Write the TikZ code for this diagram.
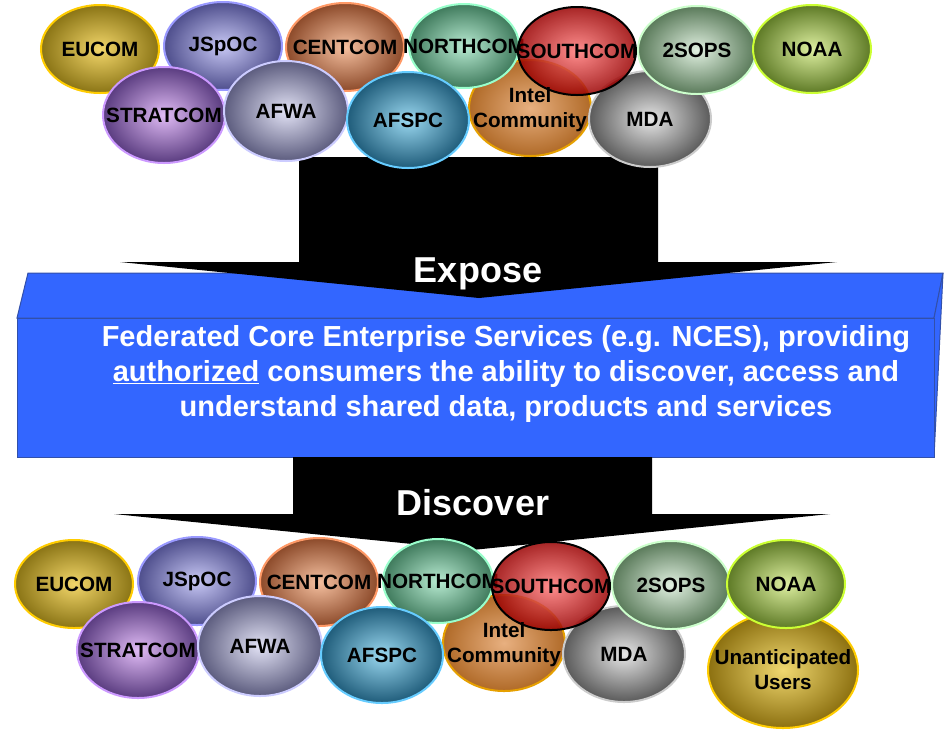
\documentclass[tikz,border=0pt]{standalone}
\usepackage{fontspec}
\setmainfont{Liberation Sans}
\usetikzlibrary{shapes.geometric,positioning}

\definecolor{boxblue}{HTML}{3366FF}
\definecolor{boxline}{HTML}{3250AA}
\definecolor{eucomin}{HTML}{F2D66A}   \definecolor{eucomout}{HTML}{8A7415}   \definecolor{eucomedge}{HTML}{FFCC00}
\definecolor{jspocin}{HTML}{C8C8F5}   \definecolor{jspocout}{HTML}{4E4E8C}   \definecolor{jspocedge}{HTML}{9999FF}
\definecolor{centin}{HTML}{F5C0A0}    \definecolor{centout}{HTML}{8C4A2A}    \definecolor{centedge}{HTML}{FF9966}
\definecolor{northin}{HTML}{B8EBD2}   \definecolor{northout}{HTML}{3F7A5C}   \definecolor{northedge}{HTML}{99FFCC}
\definecolor{southin}{HTML}{FF7A7A}   \definecolor{southout}{HTML}{990000}   \definecolor{southedge}{HTML}{000000}
\definecolor{sopsin}{HTML}{E0F0E0}    \definecolor{sopsout}{HTML}{5A7A5A}    \definecolor{sopsedge}{HTML}{CCFFCC}
\definecolor{noaain}{HTML}{DDEFA0}    \definecolor{noaaout}{HTML}{5E7A26}    \definecolor{noaaedge}{HTML}{CCFF33}
\definecolor{stratin}{HTML}{E0BBF5}   \definecolor{stratout}{HTML}{5A3C80}   \definecolor{stratedge}{HTML}{CC99FF}
\definecolor{afwain}{HTML}{E2E2F5}    \definecolor{afwaout}{HTML}{5C5C7E}    \definecolor{afwaedge}{HTML}{CCCCFF}
\definecolor{afspcin}{HTML}{9AD8F0}   \definecolor{afspcout}{HTML}{1F5C7A}   \definecolor{afspcedge}{HTML}{66CCFF}
\definecolor{intelin}{HTML}{E8B080}   \definecolor{intelout}{HTML}{B06A28}   \definecolor{inteledge}{HTML}{E6A000}
\definecolor{mdain}{HTML}{E6E6E6}     \definecolor{mdaout}{HTML}{5A5A5A}     \definecolor{mdaedge}{HTML}{CCCCCC}
\definecolor{usersin}{HTML}{F0D870}   \definecolor{usersout}{HTML}{8C7010}   \definecolor{usersedge}{HTML}{FFCC00}

\tikzset{
    org/.style n args={3}{
        ellipse,
        draw=#3,
        line width=1.5pt,
        shading=radial,
        inner color=#1,
        outer color=#2,
        minimum width=88.5pt,
        minimum height=66pt,
        inner sep=0pt,
    },
    wide/.style={
        minimum width=91.5pt,
        minimum height=72pt,
    },
    orgtext/.style={
        font=\fontsize{15.5}{18.75}\selectfont\bfseries,
        align=center,
        inner sep=0pt,
    },
    face/.style={
        fill=boxblue,
        draw=boxline,
        line width=0.75pt,
    },
    bigtext/.style={
        text=white,
        font=\fontsize{27}{32}\selectfont\bfseries,
    },
    boxtext/.style={
        text=white,
        align=center,
        font=\fontsize{21.75}{26.25}\selectfont\bfseries,
    },
}

% one cluster of organisations, #1 = prefix of the node names
\newcommand{\orgs}[1]{%
    \node[org={intelin}{intelout}{inteledge}, wide] (#1intel) at (530,108) {};
    \node[org={mdain}{mdaout}{mdaedge}, wide, label={[orgtext]center:MDA}] (#1mda) at (650,119) {};
    \node[org={eucomin}{eucomout}{eucomedge}, label={[orgtext]center:EUCOM}] (#1eucom) at (100,49) {};
    \node[org={jspocin}{jspocout}{jspocedge}, label={[orgtext]center:JSpOC}] (#1jspoc) at (223,46) {};
    \node[org={centin}{centout}{centedge}, label={[orgtext]center:CENTCOM}] (#1centcom) at (345,47) {};
    \node[org={northin}{northout}{northedge}, minimum width=82.5pt, minimum height=63pt, label={[orgtext]center:NORTHCOM}] (#1northcom) at (464,46) {};
    \node[org={southin}{southout}{southedge}, fill opacity=0.85, label={[orgtext]center:SOUTHCOM}] (#1southcom) at (577,51) {};
    \node[orgtext] (#1inteltext) at ([yshift=-1.5pt]#1intel) {Intel\\Community};
    \node[org={sopsin}{sopsout}{sopsedge}, label={[orgtext]center:2SOPS}] (#1sops) at (697,50) {};
    \node[org={noaain}{noaaout}{noaaedge}, label={[orgtext]center:NOAA}] (#1noaa) at (812,49) {};
    \node[org={stratin}{stratout}{stratedge}, wide, label={[orgtext]center:STRATCOM}] (#1stratcom) at (164,115) {};
    \node[org={afwain}{afwaout}{afwaedge}, wide, minimum width=93pt, minimum height=75pt, label={[orgtext]center:AFWA}] (#1afwa) at (286,111) {};
    \node[org={afspcin}{afspcout}{afspcedge}, wide, label={[orgtext]center:AFSPC}] (#1afspc) at (408,120) {};
}

\begin{document}
\begin{tikzpicture}[x=0.75pt, y=-0.75pt]
    \useasboundingbox (0,0) rectangle (944,729);

    % core services box
    \draw[face] (17,318) -- (28,273) -- (943,273) -- (934,318) -- cycle;
    \draw[face] (934,318) -- (943,273) -- (934,457) -- cycle;
    \draw[face] (17,318) rectangle (934,457);

    % block arrows
    \fill (299,157) -- (658,157) -- (658,262) -- (837,262) -- (479,298) -- (120,262) -- (299,262) -- cycle;
    \fill (293,457) -- (652,457) -- (652,514) -- (830,514) -- (472,550) -- (114,514) -- (293,514) -- cycle;

    \node[bigtext, anchor=base] (expose) at (478,282) {Expose};
    \node[bigtext, anchor=base] (discover) at (473,515) {Discover};
    \node[boxtext] (fces) at (506,374) {Federated Core Enterprise Services (e.g. NCES), providing\\
        \underline{authorized} consumers the ability to discover, access and\\
        understand shared data, products and services};

    % providers
    \orgs{t}

    % consumers
    \begin{scope}[shift={(-26,535)}]
        \node[org={usersin}{usersout}{usersedge}, minimum width=112.5pt, minimum height=87pt, label={[orgtext]center:Unanticipated\\Users}] (busers) at (809,135) {};
        \orgs{b}
    \end{scope}
\end{tikzpicture}
\end{document}
